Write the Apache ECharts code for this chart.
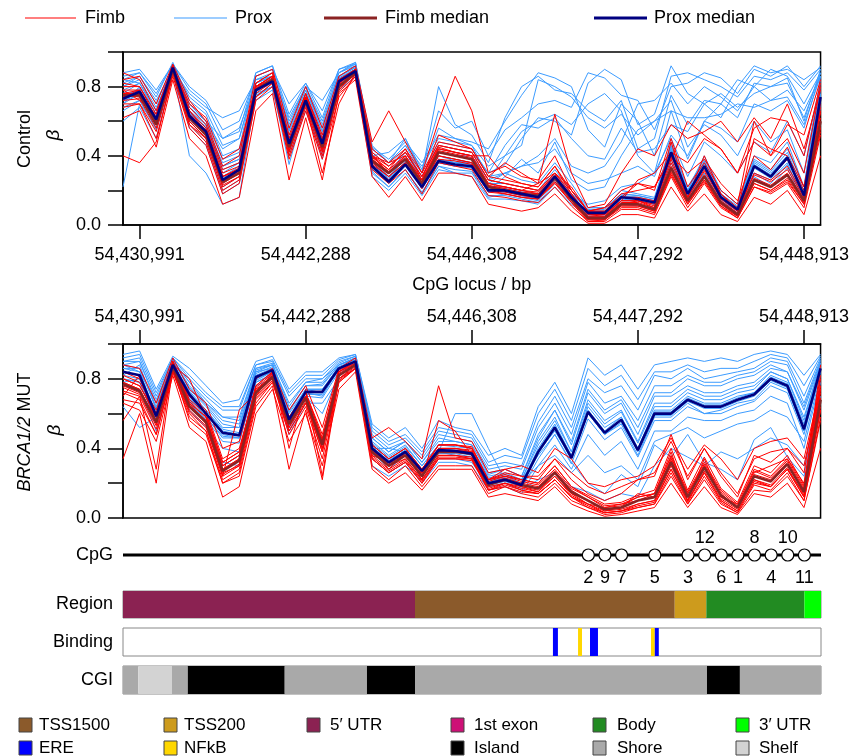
<!DOCTYPE html>
<html><head><meta charset="utf-8">
<script src="https://cdn.jsdelivr.net/npm/echarts@6/dist/echarts.min.js"></script>
<style>html,body{margin:0;padding:0;background:#fff}#c{width:852px;height:756px}</style>
</head><body><div id="c"></div>
<script>
// ---------- DATA ----------
const tickIdx = [1, 11, 21, 31, 41];
const tickLabels = ['54,430,991', '54,442,288', '54,446,308', '54,447,292', '54,448,913'];
const nCpG = 43;

// Medians (beta)
const ctrlFimbMedian = [0.75,0.75,0.58,0.90,0.62,0.52,0.25,0.30,0.78,0.84,0.45,0.72,0.45,0.80,0.88,0.37,0.30,0.38,0.24,0.42,0.40,0.38,0.22,0.20,0.18,0.17,0.27,0.15,0.04,0.04,0.12,0.12,0.09,0.33,0.14,0.28,0.13,0.06,0.26,0.22,0.29,0.14,0.60];
const ctrlProxMedian = [0.73,0.77,0.61,0.91,0.63,0.54,0.26,0.32,0.78,0.83,0.47,0.72,0.47,0.83,0.89,0.34,0.25,0.35,0.22,0.37,0.35,0.34,0.20,0.20,0.18,0.16,0.28,0.16,0.07,0.07,0.16,0.15,0.13,0.42,0.18,0.34,0.16,0.09,0.34,0.28,0.39,0.17,0.74];
const mutFimbMedian  = [0.77,0.73,0.55,0.87,0.64,0.55,0.27,0.33,0.72,0.81,0.54,0.69,0.42,0.82,0.88,0.38,0.30,0.36,0.24,0.38,0.38,0.37,0.19,0.22,0.19,0.17,0.26,0.15,0.10,0.05,0.06,0.10,0.12,0.32,0.12,0.29,0.13,0.06,0.24,0.21,0.31,0.15,0.68];
const mutProxMedian  = [0.84,0.82,0.585,0.88,0.71,0.60,0.49,0.475,0.81,0.85,0.565,0.725,0.725,0.86,0.90,0.40,0.32,0.38,0.27,0.39,0.385,0.37,0.20,0.22,0.19,0.38,0.52,0.345,0.61,0.49,0.565,0.39,0.60,0.60,0.68,0.64,0.64,0.68,0.71,0.80,0.76,0.51,0.86];

// Individual samples (beta x 100)
const ctrlProx = [
[78,82,66,92,68,58,30,36,82,86,52,76,52,86,91,38,30,40,26,42,40,38,24,24,22,20,32,20,10,10,20,18,16,46,22,38,20,12,38,32,44,22,80],
[66,72,55,88,56,46,18,24,72,78,40,66,40,78,86,28,20,30,17,32,30,28,15,15,14,12,22,12,5,5,12,11,9,36,14,28,12,6,28,22,33,12,68],
[88,90,78,93,80,72,55,60,86,90,70,82,66,90,93,45,38,48,36,52,50,48,44,60,75,88,85,80,55,45,70,60,40,75,58,72,70,62,82,80,85,60,90],
[82,86,72,90,76,68,62,66,84,88,62,80,72,88,92,40,42,50,32,66,56,60,40,55,62,70,72,68,88,85,75,72,55,80,82,88,85,76,90,86,92,80,92],
[22,70,58,90,40,30,12,16,76,80,35,70,38,82,88,30,22,32,18,34,30,30,16,18,16,14,26,14,6,6,14,14,12,40,16,30,14,8,30,26,36,14,70],
[72,75,62,91,64,55,28,34,80,84,48,74,48,84,90,35,24,36,22,38,36,35,20,28,38,30,48,26,20,22,40,55,60,72,45,58,52,40,60,48,55,30,84],
[84,88,74,94,72,64,40,44,88,92,60,80,60,88,94,42,34,44,28,46,44,42,30,35,50,62,60,52,82,90,84,58,64,92,76,70,62,80,92,88,90,84,91],
[75,78,60,91,60,50,22,28,78,82,45,70,44,82,89,32,26,36,21,36,34,33,19,20,17,15,27,16,8,8,17,16,14,44,19,36,17,10,36,30,40,18,76],
[70,80,64,89,66,56,34,38,80,84,50,75,50,85,90,36,28,38,24,40,38,36,22,22,20,18,30,18,12,14,22,24,30,50,28,48,40,30,48,42,60,40,82],
[80,84,68,90,70,60,44,50,84,86,55,78,56,86,91,44,36,46,30,56,50,46,28,30,26,24,36,24,10,10,18,17,15,48,20,40,20,12,40,36,48,22,86],
[76,74,63,92,65,56,27,33,79,84,49,73,49,84,90,35,27,36,23,38,36,35,21,21,19,17,29,17,8,8,17,16,14,43,19,35,17,10,35,29,40,18,75],
[70,76,58,90,61,52,24,30,77,82,45,71,45,82,88,33,24,34,21,36,34,33,19,19,17,15,27,15,6,6,15,14,12,41,17,33,15,8,33,27,38,16,72],
[74,79,60,92,64,57,36,40,80,85,50,74,46,85,90,37,26,37,24,40,37,36,22,21,19,18,30,18,9,9,18,17,15,45,20,37,18,11,37,31,42,20,78],
[68,72,56,89,58,48,20,26,75,80,42,69,42,80,87,31,22,32,19,34,32,31,17,17,15,13,24,13,5,5,13,12,10,38,15,30,13,7,30,24,35,14,70],
[84,82,66,93,70,60,50,56,82,86,56,78,54,86,92,40,30,42,26,44,42,40,26,40,54,60,64,58,70,76,66,40,30,66,38,60,56,48,70,66,72,56,88],
[60,68,50,88,62,55,32,36,74,80,46,70,50,80,88,34,28,36,24,38,36,36,24,30,34,40,50,34,30,34,48,70,72,82,70,80,74,66,80,72,78,66,86],
[80,86,70,92,74,66,46,50,86,90,58,80,58,88,93,44,36,50,30,80,58,52,36,62,80,86,78,76,66,60,72,44,50,86,88,84,80,74,86,84,88,78,90],
[76,82,64,90,68,60,38,42,82,86,54,76,54,86,91,40,30,42,28,48,46,44,30,46,58,56,62,50,40,38,56,42,44,58,54,70,76,68,76,80,82,62,88],
[86,88,76,93,78,70,50,54,88,92,64,82,62,90,94,46,36,46,34,50,48,46,34,40,46,84,80,74,62,56,64,52,60,66,62,62,64,70,68,72,74,58,86],
[72,78,62,90,66,58,34,38,80,84,50,74,50,84,90,38,28,38,24,42,40,40,26,30,34,36,44,30,24,26,30,34,28,52,40,60,70,84,80,90,86,70,88]
];
const ctrlFimb = [
[80,80,62,92,66,56,30,34,82,88,50,76,50,84,90,42,34,42,28,46,44,42,26,24,22,20,30,18,6,6,14,14,12,38,16,32,16,8,30,26,34,17,66],
[68,70,50,86,56,46,18,24,72,80,38,66,38,74,86,32,24,32,18,36,34,32,17,16,14,13,22,11,2,2,9,9,6,28,10,24,10,4,22,18,24,10,52],
[40,36,48,88,58,50,22,28,74,82,42,70,42,78,88,36,28,36,22,40,38,36,20,18,16,15,25,13,3,3,11,11,8,30,12,26,11,5,24,20,26,12,56],
[84,86,70,93,72,60,34,40,86,90,56,80,56,86,92,48,66,48,30,60,86,66,30,34,28,26,40,20,8,10,20,24,20,50,22,36,20,12,60,40,50,30,80],
[74,76,58,90,60,50,24,30,78,84,44,72,44,80,88,38,30,38,24,42,40,38,22,22,20,24,64,30,10,12,30,44,40,58,50,54,60,48,62,50,70,44,78],
[78,72,64,91,70,62,38,44,80,86,46,70,30,70,88,40,32,44,26,52,48,44,28,36,30,24,30,22,8,8,18,20,22,40,30,38,24,14,40,32,45,22,72],
[75,74,58,90,62,52,25,30,78,84,45,72,45,80,88,37,30,38,24,42,40,38,22,20,18,17,27,15,4,4,12,12,9,33,14,28,13,6,26,22,29,14,60],
[62,66,45,84,50,40,12,16,66,76,26,62,26,76,84,28,16,28,14,30,30,28,12,10,8,10,18,8,1,1,6,6,4,22,8,18,6,2,16,12,20,6,40],
[88,84,66,92,64,54,28,32,80,86,48,74,48,82,90,40,36,40,26,44,42,40,40,28,24,22,34,18,6,6,14,26,30,42,36,50,44,30,56,62,60,40,82],
[76,76,60,90,63,53,26,31,79,85,46,73,46,81,89,38,31,39,25,43,41,39,23,21,19,18,28,16,5,5,13,13,10,34,15,29,14,7,27,23,30,15,62],
[72,73,56,89,60,50,23,28,76,83,43,70,43,79,87,35,28,36,22,40,38,36,20,19,17,16,25,14,3,3,11,11,8,31,13,26,12,5,24,20,27,13,57],
[78,78,61,91,64,55,28,33,80,86,47,74,48,82,89,39,32,40,26,45,42,40,24,22,20,19,29,17,6,5,14,14,11,36,16,31,15,8,29,25,32,16,65],
[70,70,54,88,58,48,20,26,74,82,40,68,40,77,86,34,26,35,21,38,37,35,19,18,16,15,24,13,2,3,10,10,7,29,12,25,11,4,22,19,25,12,54],
[82,80,64,92,68,58,32,36,82,88,52,76,52,84,90,44,36,44,30,48,46,44,28,26,24,22,34,20,8,8,16,16,14,40,18,34,18,10,34,28,38,20,70],
[74,78,58,91,66,54,26,30,80,84,46,74,46,82,90,40,30,40,24,44,42,40,24,22,20,18,28,16,4,4,12,14,10,48,16,40,18,8,50,44,40,22,68],
[76,78,60,91,64,54,28,32,80,86,48,74,48,82,90,40,34,42,28,46,44,42,26,24,22,20,30,20,8,10,16,24,22,38,60,52,44,30,48,40,58,52,84]
];
const mutProx = [
[90,92,70,92,80,70,62,62,88,90,70,80,80,90,93,50,42,46,36,50,48,46,30,32,30,55,70,52,80,72,76,62,82,80,86,80,82,84,86,92,90,70,92],
[84,82,60,88,72,62,50,48,82,86,58,74,74,86,90,42,34,40,28,40,40,38,22,24,20,40,54,36,64,52,58,40,62,62,70,66,66,70,72,82,78,54,87],
[76,74,50,84,62,52,40,38,76,80,48,66,66,80,86,34,26,32,20,32,32,30,16,18,14,30,42,28,48,36,44,28,50,50,58,56,56,60,62,70,66,40,80],
[80,78,55,86,66,56,30,36,78,82,50,70,60,82,88,30,24,30,22,34,34,32,18,20,16,22,26,18,15,10,14,12,30,40,35,30,38,34,40,46,42,30,70],
[94,96,74,93,86,76,66,68,90,93,74,84,84,92,94,54,46,52,40,56,52,50,36,40,36,64,78,60,92,82,88,74,88,90,92,90,92,90,94,96,94,82,94],
[86,86,64,90,76,66,56,54,84,88,62,76,76,88,91,46,38,44,32,46,44,42,26,28,24,48,62,42,72,60,66,48,70,70,76,72,72,76,78,86,84,62,89],
[64,52,58,88,68,56,32,30,80,86,52,72,70,86,90,38,28,36,24,38,36,34,20,24,22,36,48,32,20,14,25,18,42,35,48,32,28,22,45,52,35,24,78],
[88,84,66,91,74,64,52,52,84,86,60,74,72,88,92,44,36,42,30,42,42,40,24,26,22,44,58,38,68,56,62,44,66,66,74,70,70,74,76,84,80,58,88],
[82,88,62,86,70,58,46,46,80,84,56,72,72,86,90,40,40,38,26,38,60,60,40,22,20,38,50,34,60,48,54,36,58,58,66,60,62,66,68,78,74,50,84],
[86,84,60,89,73,62,51,49,83,87,58,74,74,87,91,41,33,39,28,40,39,38,21,23,20,39,53,35,62,50,58,40,61,61,69,65,65,69,72,81,77,52,87],
[82,80,57,87,69,58,47,46,79,84,55,71,71,85,89,39,31,37,26,38,38,36,19,21,18,37,51,34,60,48,55,38,59,59,67,63,63,67,70,79,75,50,85],
[88,86,63,90,75,65,54,52,85,88,61,76,77,88,92,43,35,41,30,42,41,40,23,25,22,42,56,38,66,54,61,43,64,64,72,68,68,72,74,84,80,56,89],
[80,78,56,86,67,57,44,43,78,83,53,70,69,84,88,37,30,36,25,37,37,35,18,20,17,34,48,31,57,45,52,35,56,56,64,60,60,64,67,76,72,48,84],
[90,90,68,91,78,68,58,56,86,89,64,78,78,89,93,46,38,44,32,44,44,42,25,28,24,46,62,44,74,62,68,52,72,72,80,76,76,80,82,88,84,64,90],
[78,80,58,88,70,60,48,46,80,84,56,72,72,86,90,42,34,38,28,40,40,38,22,22,20,30,36,26,36,26,30,22,44,48,52,46,50,54,56,62,58,44,82],
[92,94,72,92,82,72,64,64,88,91,72,82,82,91,94,52,44,48,38,52,50,48,32,36,34,60,74,56,86,76,82,68,84,84,88,84,86,86,90,94,92,76,93],
[88,90,66,90,78,66,58,58,86,88,66,78,80,88,92,48,40,44,34,48,46,44,28,30,28,52,66,48,78,66,70,56,76,76,82,78,78,82,84,90,88,66,91]
];
const mutFimb = [
[82,78,62,90,68,60,32,38,76,84,58,72,46,84,90,42,34,40,28,42,42,40,22,24,22,20,30,18,12,7,8,12,14,36,15,32,16,8,28,24,34,18,74],
[72,68,48,84,60,50,22,28,68,78,50,66,38,78,86,34,26,32,20,34,34,34,16,20,16,14,22,12,8,3,4,8,10,28,10,26,10,4,20,18,28,12,62],
[34,60,20,86,56,48,20,24,64,76,28,62,22,80,86,30,22,30,18,30,30,30,14,18,14,12,20,10,6,2,3,6,8,24,8,22,8,3,16,15,24,10,56],
[88,86,66,92,74,66,40,44,80,86,62,76,52,86,92,46,52,44,34,76,46,44,26,28,24,24,34,22,14,10,14,22,24,48,22,40,24,12,36,32,40,26,82],
[78,74,56,88,64,56,28,34,72,82,54,70,42,82,88,38,30,36,24,38,38,37,19,22,19,17,26,15,10,5,6,10,12,32,12,29,13,6,24,21,31,15,68],
[76,72,58,86,70,62,34,40,74,80,56,68,44,80,88,36,32,38,26,40,40,38,22,28,30,26,40,34,20,18,22,24,30,46,28,42,34,22,40,44,46,34,76],
[66,62,44,82,52,44,12,18,60,74,44,60,30,74,84,28,20,26,16,28,28,28,12,14,12,10,18,8,4,1,2,4,6,20,6,18,6,2,14,12,20,6,40],
[70,82,54,88,80,58,26,30,70,84,40,74,24,84,90,40,28,38,22,56,50,36,20,22,18,16,24,14,10,4,6,14,12,34,14,30,12,6,26,30,34,20,80],
[56,70,28,90,66,54,24,62,72,82,52,70,40,82,88,40,30,34,22,36,36,34,18,20,18,15,26,14,8,6,8,10,14,38,10,34,12,8,22,18,28,14,88],
[78,74,56,88,65,56,28,34,73,82,55,70,43,83,89,39,31,37,25,39,39,38,20,23,20,18,27,16,10,5,6,10,12,33,12,30,14,6,25,22,32,16,69],
[75,71,53,86,62,53,25,31,70,80,52,67,40,80,87,36,28,34,22,36,36,35,17,20,17,15,24,13,8,4,5,8,10,30,10,27,11,5,22,19,29,13,64],
[80,76,58,89,67,58,30,36,75,83,57,72,45,84,89,40,32,38,26,40,40,39,21,24,21,19,28,17,12,6,7,12,14,35,14,31,15,7,27,23,33,17,72],
[73,70,51,85,61,52,24,30,69,79,50,66,38,79,86,35,27,33,21,35,35,34,16,19,16,14,22,12,7,3,4,7,9,28,9,26,10,4,21,18,28,12,62],
[84,80,60,90,70,60,32,38,76,84,58,72,48,85,90,42,34,40,28,42,42,41,22,25,22,20,30,18,13,8,9,13,16,40,16,35,17,9,30,26,36,19,76],
[68,66,48,84,58,50,20,26,66,78,48,64,34,78,86,34,26,32,20,34,34,33,16,18,15,14,22,12,6,3,4,6,8,26,8,24,9,3,19,16,26,10,58],
[80,76,60,88,66,58,30,36,74,82,56,70,44,82,88,40,32,38,26,42,42,40,22,26,24,22,34,26,18,14,18,22,26,44,24,40,26,14,34,38,40,30,74]
];

// CpG track (index positions along the locus, and their numbers)
const cpgIdx   = [28, 29, 30, 32, 34, 35, 36, 37, 38, 39, 40, 41];
const cpgNames = ['2','9','7','5','3','12','6','1','8','4','10','11'];
const cpgAbove = ['12','8','10'];
const trackExtent = [0, 42];

// Annotation tracks: [type, start, end] in CpG-index units
const regionSegs = [['5′ UTR',0,17.57],['TSS1500',17.57,33.2],['TSS200',33.2,35.1],['Body',35.1,41.0],['3′ UTR',41.0,42]];
const bindingSegs = [['ERE',25.87,26.17],['NFkB',27.38,27.62],['ERE',28.1,28.58],['NFkB',31.77,32.0],['ERE',32.0,32.24]];
const cgiSegs = [['Shore',0,0.92],['Shelf',0.92,2.95],['Shore',2.95,3.9],['Island',3.9,9.73],['Shore',9.73,14.68],['Island',14.68,17.57],['Shore',17.57,35.14],['Island',35.14,37.12],['Shore',37.12,42]];

const typeColors = {
  'TSS1500':'#8B5A2B','TSS200':'#CD9B1D','5′ UTR':'#8B2252','1st exon':'#CD1076','Body':'#228B22','3′ UTR':'#00FF00',
  'ERE':'#0000FF','NFkB':'#FFD700','Island':'#000000','Shore':'#A9A9A9','Shelf':'#D3D3D3'
};
const legendRow1 = ['TSS1500','TSS200','5′ UTR','1st exon','Body','3′ UTR'];
const legendRow2 = ['ERE','NFkB',null,'Island','Shore','Shelf'];

// ---------- STYLE ----------
const FONT = '"Liberation Sans", Arial, Helvetica, sans-serif';
const RED = '#FF0000', BLUE = '#3C9CFF', FMED = '#8B2323', PMED = '#000080';
const cats = Array.from({length: nCpG}, (_, i) => String(i));

const chart = echarts.init(document.getElementById('c'), null, {renderer: 'canvas'});

const isTick = (idx) => tickIdx.indexOf(idx) >= 0;
function xAxisPanel(gridIndex, position, extra) {
  return Object.assign({
    gridIndex, type: 'category', data: cats, boundaryGap: false, position,
    axisLine: {show: true, onZero: false, lineStyle: {color: '#000', width: 1.5}},
    axisTick: {show: true, interval: (i) => isTick(i), length: 14, lineStyle: {color: '#000', width: 1.5}},
    axisLabel: {show: true, interval: (i) => isTick(i), formatter: (v, i) => tickLabels[tickIdx.indexOf(Number(v))] || '',
      fontSize: 18, color: '#000', fontFamily: FONT, margin: position === 'top' ? 18 : 21},
    splitLine: {show: false}
  }, extra || {});
}
function yAxisPanel(gridIndex) {
  return {
    gridIndex, type: 'value', min: 0, max: 1, interval: 0.2,
    axisLine: {show: true, onZero: false, lineStyle: {color: '#000', width: 1.5}},
    axisTick: {show: true, length: 15, lineStyle: {color: '#000', width: 1.5}},
    axisLabel: {fontSize: 18, color: '#000', fontFamily: FONT, margin: 22,
      formatter: (v) => ([0, 0.4, 0.8].some(t => Math.abs(t - v) < 1e-6) ? v.toFixed(1) : '')},
    splitLine: {show: false}
  };
}

const series = [];
function addLines(arrs, color, g) {
  arrs.forEach(a => series.push({
    type: 'line', xAxisIndex: g, yAxisIndex: g, data: a.map(v => v / 100), symbol: 'none',
    lineStyle: {color, width: 1}, silent: true, z: 2
  }));
}
function addMedian(arr, color, g, z) {
  series.push({type: 'line', xAxisIndex: g, yAxisIndex: g, data: arr, symbol: 'none',
    lineStyle: {color, width: 2.6}, silent: true, z});
}
addLines(ctrlProx, BLUE, 0);
addLines(ctrlFimb, RED, 0);
addMedian(ctrlFimbMedian, FMED, 0, 4);
addMedian(ctrlProxMedian, PMED, 0, 5);
addLines(mutProx, BLUE, 1);
addLines(mutFimb, RED, 1);
addMedian(mutFimbMedian, FMED, 1, 4);
addMedian(mutProxMedian, PMED, 1, 5);

// Tracks: grids 2 (CpG), 3 (Region), 4 (Binding), 5 (CGI)
function rectRender(params, api) {
  const s = api.coord([api.value(0), 0]);
  const e = api.coord([api.value(1), 0]);
  const h = api.size([0, 1])[1];
  return {type: 'rect', shape: {x: s[0], y: s[1] - h / 2, width: e[0] - s[0], height: h},
    style: {fill: api.visual('color')}};
}
function segSeries(segs, g) {
  return {type: 'custom', xAxisIndex: g, yAxisIndex: g, renderItem: rectRender, silent: true,
    encode: {x: [0, 1], y: 2},
    data: segs.map(s => ({value: [s[1], s[2], 0], itemStyle: {color: typeColors[s[0]]}}))};
}
series.push({type: 'line', xAxisIndex: 2, yAxisIndex: 2, data: trackExtent.map(x => [x, 0]), symbol: 'none',
  lineStyle: {color: '#000', width: 3}, silent: true, z: 2});
series.push({type: 'scatter', xAxisIndex: 2, yAxisIndex: 2, symbol: 'circle', symbolSize: 12, silent: true, z: 3,
  itemStyle: {color: '#fff', borderColor: '#000', borderWidth: 1.2, opacity: 1},
  data: cpgIdx.map((x, k) => {
    const up = cpgAbove.indexOf(cpgNames[k]) >= 0;
    return {value: [x, 0], label: {show: true, formatter: cpgNames[k], position: up ? 'top' : 'bottom',
      distance: up ? 1 : 7, fontSize: 18, color: '#000', fontFamily: FONT}};
  })});
series.push(segSeries(regionSegs, 3));
series.push(segSeries(bindingSegs, 4));
series.push(segSeries(cgiSegs, 5));

function trackGrid(top, height) {
  return {left: 123, width: 698, top, height, show: true, borderColor: '#888', borderWidth: 1, backgroundColor: '#fff'};
}
function trackX(g) { return {gridIndex: g, type: 'value', min: 0, max: 42, show: false}; }
function trackY(g, name) {
  return {gridIndex: g, type: 'category', data: [name], axisLine: {show: false}, axisTick: {show: false},
    axisLabel: {fontSize: 18, color: '#000', fontFamily: FONT, margin: 10}};
}

// Legends (graphic)
const graphic = [];
const topLegend = [
  {name: 'Fimb', color: RED, w: 1.2, x0: 25, x1: 76, tx: 85},
  {name: 'Prox', color: BLUE, w: 1.2, x0: 174, x1: 227, tx: 235},
  {name: 'Fimb median', color: FMED, w: 3, x0: 324, x1: 377, tx: 385},
  {name: 'Prox median', color: PMED, w: 3, x0: 594, x1: 647, tx: 654}
];
topLegend.forEach(l => {
  graphic.push({type: 'line', shape: {x1: l.x0, y1: 18, x2: l.x1, y2: 18}, style: {stroke: l.color, lineWidth: l.w}});
  graphic.push({type: 'text', x: l.tx, y: 18, style: {text: l.name, fontSize: 18, fontFamily: FONT, fill: '#000', verticalAlign: 'middle'}});
});
const legX = [19, 164, 307, 451, 593, 736];
const legTX = [39, 184, 330, 474, 617, 759];
[[legendRow1, 725], [legendRow2, 748]].forEach(([row, y]) => {
  row.forEach((name, k) => {
    if (!name) return;
    graphic.push({type: 'rect', shape: {x: legX[k], y: y - 7, width: 13, height: 14},
      style: {fill: typeColors[name], stroke: '#444', lineWidth: 1}});
    graphic.push({type: 'text', x: legTX[k], y: y, style: {text: name, fontSize: 17, fontFamily: FONT, fill: '#000', verticalAlign: 'middle'}});
  });
});
// y axis titles
graphic.push({type: 'text', x: 25, y: 139, rotation: Math.PI / 2,
  style: {text: 'Control', fontSize: 18, fontFamily: FONT, fill: '#000', align: 'center', verticalAlign: 'middle'}});
graphic.push({type: 'text', x: 54, y: 135, rotation: Math.PI / 2,
  style: {text: 'β', fontSize: 19, fontStyle: 'italic', fontFamily: FONT, fill: '#000', align: 'center', verticalAlign: 'middle'}});
graphic.push({type: 'text', x: 25, y: 432, rotation: Math.PI / 2,
  style: {text: '{i|BRCA1/2} MUT', fontSize: 18, fontFamily: FONT, fill: '#000', align: 'center', verticalAlign: 'middle',
    rich: {i: {fontStyle: 'italic', fontSize: 18, fontFamily: FONT}}}});
graphic.push({type: 'text', x: 55, y: 430, rotation: Math.PI / 2,
  style: {text: 'β', fontSize: 19, fontStyle: 'italic', fontFamily: FONT, fill: '#000', align: 'center', verticalAlign: 'middle'}});

chart.setOption({
  animation: false,
  backgroundColor: '#fff',
  textStyle: {fontFamily: FONT},
  grid: [
    {left: 123, width: 698, top: 52, height: 173, show: true, borderColor: '#000', borderWidth: 1.5},
    {left: 123, width: 698, top: 344, height: 174, show: true, borderColor: '#000', borderWidth: 1.5},
    {left: 123, width: 698, top: 545, height: 20},
    trackGrid(591, 27), trackGrid(628, 28), trackGrid(666, 28)
  ],
  xAxis: [
    xAxisPanel(0, 'bottom', {name: 'CpG locus / bp', nameLocation: 'middle', nameGap: 51,
      nameTextStyle: {fontSize: 18, color: '#000', fontFamily: FONT}}),
    xAxisPanel(1, 'top'),
    trackX(2), trackX(3), trackX(4), trackX(5)
  ],
  yAxis: [
    yAxisPanel(0), yAxisPanel(1),
    trackY(2, 'CpG'), trackY(3, 'Region'), trackY(4, 'Binding'), trackY(5, 'CGI')
  ],
  graphic,
  series
});
</script></body></html>
